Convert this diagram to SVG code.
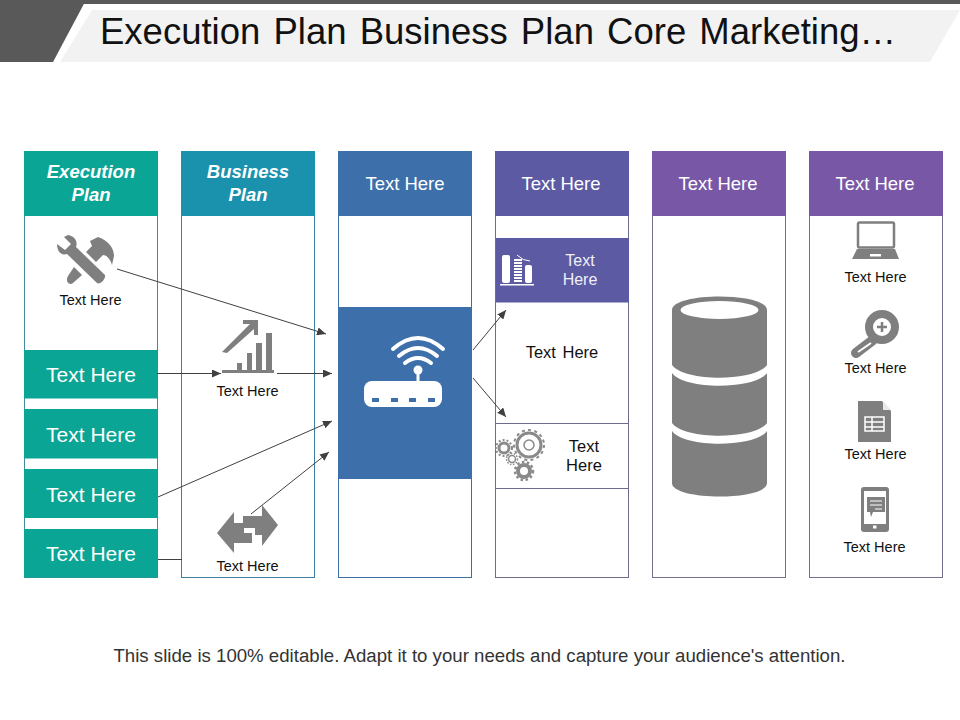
<svg xmlns="http://www.w3.org/2000/svg" width="960" height="720" viewBox="0 0 960 720">
<style>
text{font-family:"Liberation Sans",Arial,sans-serif;text-anchor:middle}
.s{font-size:14.500px;fill:#111}
.m{font-size:16.500px;fill:#111}
.h{font-size:18.500px;fill:#fff}
.b{font-size:21px;fill:#fff}
.t{font-size:18.500px;fill:#fff;font-weight:bold;font-style:italic}
.i{fill:#7f7f7f}
.c{stroke:#404040;stroke-width:1;fill:none}
</style>
<defs>
<marker id="a" markerWidth="10" markerHeight="8" refX="9" refY="4" orient="auto" markerUnits="userSpaceOnUse"><path d="M0 0L9 4L0 8Z" fill="#404040"/></marker>
</defs>
<rect width="960" height="720" fill="#fff"/>
<g id="title">
<rect width="960" height="4" fill="#595959"/>
<polygon points="0,0 86,0 53,62 0,62" fill="#595959"/>
<polygon points="92,10 960,10 930,62 60,62" fill="#f2f2f2"/>
<text x="100" y="44" font-size="36.500" word-spacing="3" style="text-anchor:start;fill:#111">Execution Plan Business Plan Core Marketing…</text>
</g>
<g id="col1">
<rect x="24.500" y="151.500" width="133" height="426" fill="#fff" stroke="#3f8d9a"/>
<rect x="24" y="151" width="134" height="65" fill="#0ba595"/>
<text class="t" x="91" y="178">Execution</text><text class="t" x="91" y="201">Plan</text>
<g class="i">
<path d="M68 235C75 236 78 242 76 247L105 275C106 279 100 285 97 283L67 254C60 256 57 250 57 244L65 250L71 244L64 237Z"/>
<path d="M90 241L98 237C107 240 114 247 114 256L112 265C110 258 106 255 103 255L96 262L86 252L92 246Z"/>
<path d="M74 267L82 275L73 283C69 286 65 281 68 276Z"/>
</g>
<text class="s" x="90.500" y="304.500">Text Here</text>
</g>
<g id="col1-a"><rect x="24" y="350" width="134" height="48.500" fill="#0ba595"/><text class="b" x="91" y="382">Text Here</text></g>
<g id="col1-b"><rect x="24" y="409" width="134" height="49.500" fill="#0ba595"/><text class="b" x="91" y="442">Text Here</text></g>
<g id="col1-c"><rect x="24" y="469" width="134" height="49" fill="#0ba595"/><text class="b" x="91" y="502">Text Here</text></g>
<g id="col1-d"><rect x="24" y="529" width="134" height="48.500" fill="#0ba595"/><text class="b" x="91" y="561">Text Here</text></g>
<g id="col2">
<rect x="181.500" y="151.500" width="133" height="426" fill="#fff" stroke="#3d7f9f"/>
<rect x="181" y="151" width="134" height="65" fill="#1a91ad"/>
<text class="t" x="248" y="178">Business</text><text class="t" x="248" y="201">Plan</text>
<g class="i">
<polygon points="222,352 250,324 243,324 243,320 258,320 258,335 254,335 254,329 227,353"/>
<rect x="237" y="363" width="5" height="8"/><rect x="247" y="353" width="5" height="18"/><rect x="256" y="343" width="6" height="28"/><rect x="266" y="333" width="6" height="38"/>
<rect x="222" y="370" width="52" height="3"/>
</g>
<text class="s" x="247.500" y="396">Text Here</text>
<g class="i">
<polygon points="217,533 234,512 234,523 244,523 244,533 252,533 252,543 234,543 234,553"/>
<polygon points="243,516 262,516 262,505 278,525 262,546 262,535 255,535 255,528 243,528"/>
</g>
<text class="s" x="247.500" y="571">Text Here</text>
</g>
<g id="col3">
<rect x="338.500" y="151.500" width="133" height="426" fill="#fff" stroke="#3d6f9f"/>
<rect x="338" y="151" width="134" height="65" fill="#3d70aa"/>
<text class="h" x="405" y="190">Text Here</text>
<rect x="338" y="307" width="134" height="172" fill="#3d70aa"/>
<g fill="none" stroke="#fff" stroke-linecap="round" stroke-width="4">
<path d="M393 349Q418 327 443 349"/><path d="M399 356Q418 340 437 356"/><path d="M405 363Q418 353 431 363"/>
</g>
<circle cx="418" cy="370" r="4.500" fill="#fff"/><rect x="416.500" y="372" width="3" height="12" fill="#fff"/>
<rect x="364" y="381" width="78" height="26" rx="8" fill="#fff"/>
<g fill="#3d70aa"><rect x="372" y="398" width="7" height="4"/><rect x="391" y="398" width="7" height="4"/><rect x="409" y="398" width="7" height="4"/><rect x="428" y="398" width="7" height="4"/></g>
</g>
<g id="col4">
<rect x="495.500" y="151.500" width="133" height="426" fill="#fff" stroke="#6c6c8c"/>
<rect x="495" y="151" width="134" height="65" fill="#5b5aa3"/>
<text class="h" x="561" y="190">Text Here</text>
<rect x="496" y="238" width="133" height="64.500" fill="#5b5aa3"/>
<g fill="#fff"><rect x="502" y="255" width="8" height="28" rx="2"/><rect x="525" y="265" width="7" height="18" rx="2"/><rect x="500" y="284" width="34" height="1.500"/></g>
<path d="M514 260h8M514 263h8M514 266h8M514 269h8M514 272h8M514 275h8M514 278h8M514 281h8" stroke="#fff" stroke-width="1.800"/>
<path d="M517 255Q523 261 530 261" stroke="#fff" fill="none"/>
<text x="580" y="266" font-size="16" fill="#f0f0f8">Text</text><text x="580" y="285" font-size="16" fill="#f0f0f8">Here</text>
<text class="m" x="562" y="358" word-spacing="2">Text Here</text>
<rect x="495.500" y="423.500" width="133" height="65" fill="#fff" stroke="#6c6c8c"/>
<g fill="none" stroke="#8a8a8a">
<circle cx="529" cy="445" r="12" stroke-width="3"/><circle cx="529" cy="445" r="15" stroke-width="2" stroke-dasharray="3 3.300"/><circle cx="529" cy="445" r="5" stroke-width="1.500"/>
<circle cx="504" cy="448" r="5" stroke-width="3"/><circle cx="504" cy="448" r="8" stroke-width="2" stroke-dasharray="2 2"/>
<circle cx="512" cy="459" r="3.500" stroke-width="1.500"/><circle cx="512" cy="459" r="5.500" stroke-width="1.500" stroke-dasharray="1.500 1.500"/>
<circle cx="524" cy="471" r="6" stroke-width="4"/><circle cx="524" cy="471" r="9" stroke-width="2.500" stroke-dasharray="2.500 2.500"/>
</g>
<text class="m" x="584" y="452">Text</text><text class="m" x="584" y="471">Here</text>
</g>
<g id="col5">
<rect x="652.500" y="151.500" width="133" height="426" fill="#fff" stroke="#75708f"/>
<rect x="652" y="151" width="134" height="65" fill="#7858a6"/>
<text class="h" x="718" y="190">Text Here</text>
<path class="i" d="M672 310C672 292 767 292 767 310L767 483C767 501 672 501 672 483Z"/>
<ellipse cx="719.500" cy="310" rx="39" ry="9" fill="#fff"/>
<path d="M672 366C684 383 755 383 767 366L767 374C755 391 684 391 672 374Z" fill="#fff" transform="translate(0,-1)"/>
<path d="M672 424C684 441 755 441 767 424L767 432C755 449 684 449 672 432Z" fill="#fff" transform="translate(0,-1)"/>
</g>
<g id="col6">
<rect x="809.500" y="151.500" width="133" height="426" fill="#fff" stroke="#75708f"/>
<rect x="809" y="151" width="134" height="65" fill="#7858a6"/>
<text class="h" x="875" y="190">Text Here</text>
<rect x="858" y="222.500" width="36" height="25" rx="1.500" fill="none" stroke="#7f7f7f" stroke-width="2.500"/>
<polygon class="i" points="857,249 895,249 899,259 852,259"/><rect x="870" y="254" width="11" height="2.500" fill="#fff"/>
<text class="s" x="875.500" y="282">Text Here</text>
<circle cx="882" cy="327" r="13" fill="#fff" stroke="#7f7f7f" stroke-width="8"/>
<path d="M873 340L856 353" stroke="#7f7f7f" stroke-width="10" stroke-linecap="round"/>
<path d="M871 343L858 352" stroke="#fff" stroke-width="2"/>
<path d="M877 327h10M882 322v10" stroke="#7f7f7f" stroke-width="2.500"/>
<text class="s" x="875.500" y="373">Text Here</text>
<polygon class="i" points="858,401 882,401 891,411 891,442 858,442"/>
<polygon points="883,401 891,410 883,410" fill="#e8e8e8"/>
<path d="M865 417h19v14h-19zM865 422h19M865 427h19M872 417v14" fill="none" stroke="#fff" stroke-width="1.500"/>
<text class="s" x="875.500" y="459">Text Here</text>
<rect x="861" y="487" width="28" height="45" rx="3" fill="#7f7f7f"/>
<rect x="864" y="491" width="22" height="33" fill="#fff"/>
<path class="i" d="M867 497h18v15h-12l-2 5l-1-5h-3z"/>
<path d="M870 501h12M870 505h12M875 509h7" stroke="#fff" stroke-width="1"/>
<rect x="873" y="525.500" width="3.500" height="3" fill="#fff"/>
<text class="s" x="874.500" y="552">Text Here</text>
</g>
<g id="connectors">
<line class="c" x1="117" y1="269" x2="326" y2="334" marker-end="url(#a)"/>
<line class="c" x1="157" y1="373.500" x2="221" y2="373.500" marker-end="url(#a)"/>
<line class="c" x1="277" y1="373.500" x2="332" y2="373.500" marker-end="url(#a)"/>
<line class="c" x1="158" y1="497" x2="332" y2="421" marker-end="url(#a)"/>
<line class="c" x1="158" y1="559.500" x2="182" y2="559.500"/>
<line class="c" x1="251" y1="514" x2="329" y2="452" marker-end="url(#a)"/>
<line class="c" x1="473" y1="350" x2="506" y2="310" marker-end="url(#a)"/>
<line class="c" x1="473" y1="378" x2="506" y2="417" marker-end="url(#a)"/>
</g>
<text x="479.500" y="662" font-size="18.650" fill="#333">This slide is 100% editable. Adapt it to your needs and capture your audience's attention.</text>
</svg>
